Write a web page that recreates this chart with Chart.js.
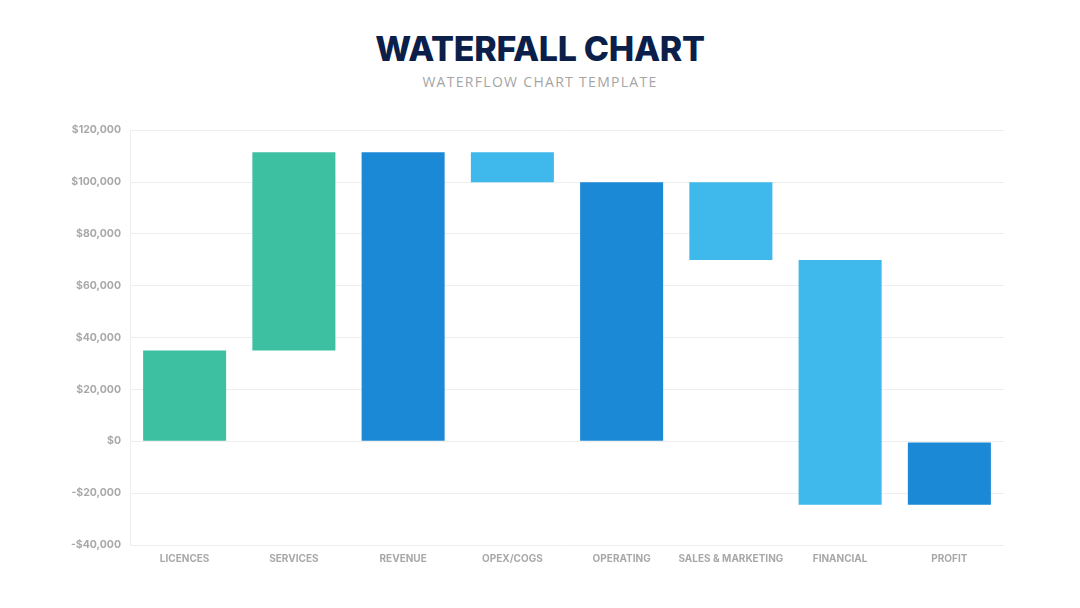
<!DOCTYPE html>
<html>
<head>
<meta charset="utf-8">
<script src="https://cdn.jsdelivr.net/npm/chart.js@4"></script>
<style>
  body { margin: 0; background: #fff; width: 1080px; height: 608px; overflow: hidden; position: relative; }
  .title { position: absolute; top: 28px; left: 0; width: 1080px; text-align: center;
    font-family: Inter, "Open Sans", sans-serif; font-weight: 800; font-size: 34px; color: #0c1f4b; letter-spacing: -0.3px; }
  .subtitle { position: absolute; top: 72px; left: 0; width: 1080px; text-align: center;
    font-family: "Open Sans", sans-serif; font-size: 14px; color: #a5a5a5; letter-spacing: 1.3px; }
  .wrap { position: absolute; left: 0; top: 115px; width: 1080px; height: 462px; }
</style>
</head>
<body>
<div class="title">WATERFALL CHART</div>
<div class="subtitle">WATERFLOW CHART TEMPLATE</div>
<div class="wrap"><canvas id="chart"></canvas></div>
<script>
const categories = ["LICENCES", "SERVICES", "REVENUE", "OPEX/COGS", "OPERATING", "SALES & MARKETING", "FINANCIAL", "PROFIT"];
const barStart = [0, 35000, 0, 100000, 0, 70000, -24500, -24500];
const barEnd = [35000, 111500, 111500, 111500, 100000, 100000, 70000, -500];
const barColors = ["#3dbfa1", "#3dbfa1", "#1b89d6", "#3fb8ec", "#1b89d6", "#3fb8ec", "#3fb8ec", "#1b89d6"];
const yTicks = [-40000, -20000, 0, 20000, 40000, 60000, 80000, 100000, 120000];

const money = v => (v < 0 ? "-$" : "$") + Math.abs(v).toLocaleString("en-US");

new Chart(document.getElementById("chart"), {
  type: "bar",
  data: {
    labels: categories,
    datasets: [{
      data: categories.map((c, i) => [barStart[i], barEnd[i]]),
      backgroundColor: barColors,
      borderWidth: 0,
      barPercentage: 0.76,
      categoryPercentage: 1.0,
    }],
  },
  options: {
    responsive: true,
    maintainAspectRatio: false,
    animation: false,
    layout: { padding: { top: 1, right: 76, left: 0, bottom: 0 } },
    plugins: { legend: { display: false }, tooltip: { enabled: false } },
    scales: {
      x: {
        grid: { display: false, drawTicks: false },
        border: { display: false },
        ticks: { color: "#a8a8a8", padding: 8, maxRotation: 0, minRotation: 0, autoSkip: false,
          font: { family: "Inter", size: 10, weight: "bold" } },
        afterFit: s => { s.height = 32; },
      },
      y: {
        min: -40000,
        max: 120000,
        afterBuildTicks: s => { s.ticks = yTicks.map(v => ({ value: v })); },
        grid: { color: "#eeeeee", drawTicks: false },
        border: { display: true, color: "#eeeeee" },
        ticks: { color: "#a8a8a8", padding: 9, font: { family: "Inter", size: 10.5, weight: "bold" }, callback: v => money(v) },
        afterFit: s => { s.width = 130; },
      },
    },
  },
});
</script>
</body>
</html>
